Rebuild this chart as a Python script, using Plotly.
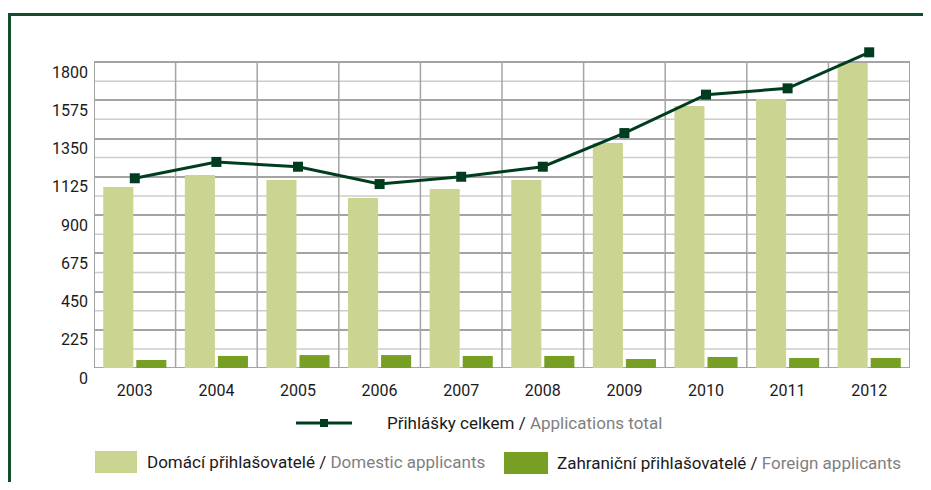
import plotly.graph_objects as go

years = ["2003", "2004", "2005", "2006", "2007", "2008", "2009", "2010", "2011", "2012"]
domestic = [1065, 1135, 1106, 1000, 1053, 1106, 1324, 1541, 1582, 1794]
foreign = [47, 71, 76, 76, 71, 71, 53, 65, 59, 59]
total = [1116, 1212, 1184, 1082, 1125, 1184, 1382, 1608, 1645, 1857]
y_ticks = [0, 225, 450, 675, 900, 1125, 1350, 1575, 1800]
y_top = 1800
y_range_max = 1900

name_total = "Přihlášky celkem"
name_total_en = "Applications total"
name_dom = "Domácí přihlašovatelé"
name_dom_en = "Domestic applicants"
name_for = "Zahraniční přihlašovatelé"
name_for_en = "Foreign applicants"

OFF = 8  # page body margin
W, H = 931 - 2 * OFF, 490 - 2 * OFF
PLOT_L, PLOT_R, PLOT_B = 94, 910, 368          # reference page pixels
PLOT_T = PLOT_B - (PLOT_B - 62) * y_range_max / y_top
L = PLOT_L - OFF
R = W - (PLOT_R - OFF)
B = H - (PLOT_B - OFF)
T = PLOT_T - OFF
PW, PH = W - L - R, H - T - B

C_DOM = "#cbd591"
C_FOR = "#769f24"
C_LINE = "#003d1f"
C_FRAME = "#124d2c"
C_GRID = "#a4a4a4"
C_MINOR = "#cccccc"
FONT = "Roboto"


def px(x):
    return (x - OFF - L) / PW


def py(y):
    return (H - B - (y - OFF)) / PH


fig = go.Figure()
fig.add_trace(go.Bar(x=years, y=domestic, name=name_dom, marker=dict(color=C_DOM, line_width=0)))
fig.add_trace(go.Bar(x=years, y=foreign, name=name_for, marker=dict(color=C_FOR, line_width=0)))
fig.add_trace(go.Scatter(x=years, y=total, name=name_total, mode="lines+markers",
                         line=dict(color=C_LINE, width=3),
                         marker=dict(symbol="square", size=10, color=C_LINE),
                         cliponaxis=False))

n = len(years)
shapes = []
for i in range(len(y_ticks) - 1):
    ym = (y_ticks[i] + y_ticks[i + 1]) / 2
    shapes.append(dict(type="line", xref="x", yref="y", x0=-0.5, x1=n - 0.5, y0=ym, y1=ym,
                       line=dict(color=C_MINOR, width=1.5), layer="below"))
for i in range(1, n):
    shapes.append(dict(type="line", xref="x", yref="y", x0=i - 0.5, x1=i - 0.5, y0=0, y1=y_top,
                       line=dict(color=C_GRID, width=1.5), layer="below"))
shapes.append(dict(type="rect", xref="x", yref="y", x0=-0.5, x1=n - 0.5, y0=0, y1=y_top,
                   line=dict(color=C_GRID, width=2), fillcolor="rgba(0,0,0,0)", layer="below"))
shapes += [
    # outer frame: top and left edges
    dict(type="line", xref="paper", yref="paper", x0=px(8), x1=px(923), y0=py(14.5), y1=py(14.5),
         line=dict(color=C_FRAME, width=3), layer="below"),
    dict(type="line", xref="paper", yref="paper", x0=px(9.5), x1=px(9.5), y0=py(13), y1=py(482),
         line=dict(color=C_FRAME, width=3), layer="below"),
    # legend marks
    dict(type="line", xref="paper", yref="paper", x0=px(296), x1=px(352), y0=py(423), y1=py(423),
         line=dict(color=C_LINE, width=3)),
    dict(type="rect", xref="paper", yref="paper", x0=px(320), x1=px(328), y0=py(427), y1=py(419),
         line=dict(width=0), fillcolor=C_LINE),
    dict(type="rect", xref="paper", yref="paper", x0=px(95), x1=px(137), y0=py(473), y1=py(451),
         line=dict(width=0), fillcolor=C_DOM),
    dict(type="rect", xref="paper", yref="paper", x0=px(504), x1=px(548), y0=py(474), y1=py(452),
         line=dict(width=0), fillcolor=C_FOR),
]

gray = "#7f7f7f"
LF = 17
annotations = [
    dict(x=px(385), y=py(423), xref="paper", yref="paper", xanchor="left", yanchor="middle",
         showarrow=False, font=dict(family=FONT, size=LF, color="#1a1a1a"),
         text=f"{name_total} / <span style='color:{gray}'>{name_total_en}</span>"),
    dict(x=px(145), y=py(462), xref="paper", yref="paper", xanchor="left", yanchor="middle",
         showarrow=False, font=dict(family=FONT, size=LF, color="#1a1a1a"),
         text=f"{name_dom} / <span style='color:{gray}'>{name_dom_en}</span>"),
    dict(x=px(555), y=py(463), xref="paper", yref="paper", xanchor="left", yanchor="middle",
         showarrow=False, font=dict(family=FONT, size=LF, color="#1a1a1a"),
         text=f"{name_for} / <span style='color:{gray}'>{name_for_en}</span>"),
]

fig.update_layout(
    width=W, height=H,
    margin=dict(l=L, r=R, t=T, b=B, pad=0),
    paper_bgcolor="white", plot_bgcolor="white",
    showlegend=False,
    barmode="group", bargap=0.19, bargroupgap=0.09,
    font=dict(family=FONT, size=16, color="#1a1a1a"),
    shapes=shapes, annotations=annotations,
    xaxis=dict(type="category", range=[-0.5, n - 0.5], showgrid=False,
               ticks="", showline=False, zeroline=False,
               ticklabelstandoff=11, tickfont=dict(family=FONT, size=16, color="#1a1a1a")),
    yaxis=dict(range=[0, y_range_max], tickvals=y_ticks, ticktext=[str(v) for v in y_ticks],
               showgrid=True, gridcolor=C_GRID, gridwidth=1.5,
               ticks="", showline=False, zeroline=False,
               ticklabelshift=10, ticklabelstandoff=5,
               tickfont=dict(family=FONT, size=16, color="#1a1a1a")),
)

fig.write_html("out.html")
